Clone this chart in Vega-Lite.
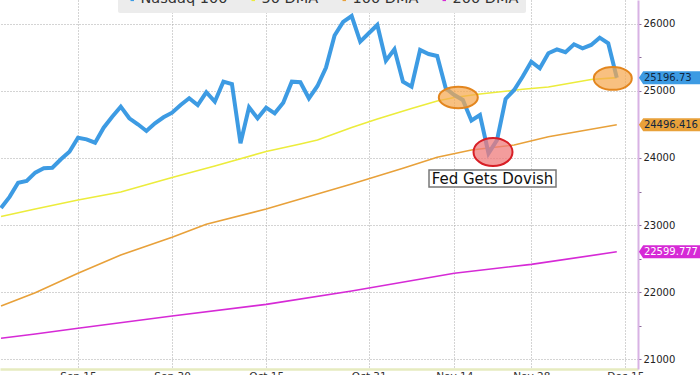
{
  "$schema": "https://vega.github.io/schema/vega-lite/v6.json",
  "width": 638,
  "height": 369,
  "autosize": {"type": "none"},
  "padding": {"left": 0, "top": 0, "right": 62, "bottom": 6},
  "background": "white",
  "config": {"view": {"stroke": null}, "font": "DejaVu Sans"},
  "datasets": {
    "prices": [
      {"date": "2025-09-02", "series": "50 DMA", "value": 23127},
      {"date": "2025-09-08", "series": "50 DMA", "value": 23239},
      {"date": "2025-09-15", "series": "50 DMA", "value": 23373},
      {"date": "2025-09-22", "series": "50 DMA", "value": 23493},
      {"date": "2025-09-30", "series": "50 DMA", "value": 23710},
      {"date": "2025-10-07", "series": "50 DMA", "value": 23881},
      {"date": "2025-10-15", "series": "50 DMA", "value": 24097},
      {"date": "2025-10-21", "series": "50 DMA", "value": 24209},
      {"date": "2025-10-23", "series": "50 DMA", "value": 24269},
      {"date": "2025-10-29", "series": "50 DMA", "value": 24455},
      {"date": "2025-11-03", "series": "50 DMA", "value": 24582},
      {"date": "2025-11-07", "series": "50 DMA", "value": 24739},
      {"date": "2025-11-12", "series": "50 DMA", "value": 24851},
      {"date": "2025-11-14", "series": "50 DMA", "value": 24903},
      {"date": "2025-11-19", "series": "50 DMA", "value": 24955},
      {"date": "2025-11-26", "series": "50 DMA", "value": 25025},
      {"date": "2025-12-02", "series": "50 DMA", "value": 25060},
      {"date": "2025-12-09", "series": "50 DMA", "value": 25172},
      {"date": "2025-12-12", "series": "50 DMA", "value": 25200},
      {"date": "2025-09-02", "series": "100 DMA", "value": 21791},
      {"date": "2025-09-08", "series": "100 DMA", "value": 21990},
      {"date": "2025-09-15", "series": "100 DMA", "value": 22279},
      {"date": "2025-09-22", "series": "100 DMA", "value": 22552},
      {"date": "2025-09-30", "series": "100 DMA", "value": 22816},
      {"date": "2025-10-06", "series": "100 DMA", "value": 23010},
      {"date": "2025-10-15", "series": "100 DMA", "value": 23239},
      {"date": "2025-10-29", "series": "100 DMA", "value": 23612},
      {"date": "2025-11-06", "series": "100 DMA", "value": 23846},
      {"date": "2025-11-12", "series": "100 DMA", "value": 24010},
      {"date": "2025-11-18", "series": "100 DMA", "value": 24119},
      {"date": "2025-11-25", "series": "100 DMA", "value": 24194},
      {"date": "2025-12-02", "series": "100 DMA", "value": 24318},
      {"date": "2025-12-12", "series": "100 DMA", "value": 24496.416},
      {"date": "2025-09-02", "series": "200 DMA", "value": 21309},
      {"date": "2025-09-08", "series": "200 DMA", "value": 21373},
      {"date": "2025-09-15", "series": "200 DMA", "value": 21458},
      {"date": "2025-09-30", "series": "200 DMA", "value": 21642},
      {"date": "2025-10-15", "series": "200 DMA", "value": 21816},
      {"date": "2025-10-29", "series": "200 DMA", "value": 22015},
      {"date": "2025-11-14", "series": "200 DMA", "value": 22279},
      {"date": "2025-11-28", "series": "200 DMA", "value": 22413},
      {"date": "2025-12-12", "series": "200 DMA", "value": 22599.777},
      {"date": "2025-09-02", "series": "Nasdaq 100", "value": 23254},
      {"date": "2025-09-03", "series": "Nasdaq 100", "value": 23420},
      {"date": "2025-09-04", "series": "Nasdaq 100", "value": 23631},
      {"date": "2025-09-05", "series": "Nasdaq 100", "value": 23657},
      {"date": "2025-09-08", "series": "Nasdaq 100", "value": 23781},
      {"date": "2025-09-09", "series": "Nasdaq 100", "value": 23846},
      {"date": "2025-09-10", "series": "Nasdaq 100", "value": 23855},
      {"date": "2025-09-11", "series": "Nasdaq 100", "value": 23981},
      {"date": "2025-09-12", "series": "Nasdaq 100", "value": 24094},
      {"date": "2025-09-15", "series": "Nasdaq 100", "value": 24303},
      {"date": "2025-09-16", "series": "Nasdaq 100", "value": 24279},
      {"date": "2025-09-17", "series": "Nasdaq 100", "value": 24228},
      {"date": "2025-09-18", "series": "Nasdaq 100", "value": 24452},
      {"date": "2025-09-19", "series": "Nasdaq 100", "value": 24616},
      {"date": "2025-09-22", "series": "Nasdaq 100", "value": 24766},
      {"date": "2025-09-23", "series": "Nasdaq 100", "value": 24593},
      {"date": "2025-09-24", "series": "Nasdaq 100", "value": 24503},
      {"date": "2025-09-25", "series": "Nasdaq 100", "value": 24403},
      {"date": "2025-09-26", "series": "Nasdaq 100", "value": 24518},
      {"date": "2025-09-29", "series": "Nasdaq 100", "value": 24607},
      {"date": "2025-09-30", "series": "Nasdaq 100", "value": 24676},
      {"date": "2025-10-01", "series": "Nasdaq 100", "value": 24791},
      {"date": "2025-10-02", "series": "Nasdaq 100", "value": 24891},
      {"date": "2025-10-03", "series": "Nasdaq 100", "value": 24791},
      {"date": "2025-10-06", "series": "Nasdaq 100", "value": 24981},
      {"date": "2025-10-07", "series": "Nasdaq 100", "value": 24840},
      {"date": "2025-10-08", "series": "Nasdaq 100", "value": 25139},
      {"date": "2025-10-09", "series": "Nasdaq 100", "value": 25104},
      {"date": "2025-10-10", "series": "Nasdaq 100", "value": 24219},
      {"date": "2025-10-13", "series": "Nasdaq 100", "value": 24757},
      {"date": "2025-10-14", "series": "Nasdaq 100", "value": 24593},
      {"date": "2025-10-15", "series": "Nasdaq 100", "value": 24751},
      {"date": "2025-10-16", "series": "Nasdaq 100", "value": 24667},
      {"date": "2025-10-17", "series": "Nasdaq 100", "value": 24825},
      {"date": "2025-10-20", "series": "Nasdaq 100", "value": 25139},
      {"date": "2025-10-21", "series": "Nasdaq 100", "value": 25130},
      {"date": "2025-10-22", "series": "Nasdaq 100", "value": 24891},
      {"date": "2025-10-23", "series": "Nasdaq 100", "value": 25075},
      {"date": "2025-10-24", "series": "Nasdaq 100", "value": 25351},
      {"date": "2025-10-27", "series": "Nasdaq 100", "value": 25828},
      {"date": "2025-10-28", "series": "Nasdaq 100", "value": 26030},
      {"date": "2025-10-29", "series": "Nasdaq 100", "value": 26119},
      {"date": "2025-10-30", "series": "Nasdaq 100", "value": 25736},
      {"date": "2025-10-31", "series": "Nasdaq 100", "value": 25861},
      {"date": "2025-11-03", "series": "Nasdaq 100", "value": 25985},
      {"date": "2025-11-04", "series": "Nasdaq 100", "value": 25452},
      {"date": "2025-11-05", "series": "Nasdaq 100", "value": 25622},
      {"date": "2025-11-06", "series": "Nasdaq 100", "value": 25139},
      {"date": "2025-11-07", "series": "Nasdaq 100", "value": 25064},
      {"date": "2025-11-10", "series": "Nasdaq 100", "value": 25612},
      {"date": "2025-11-11", "series": "Nasdaq 100", "value": 25552},
      {"date": "2025-11-12", "series": "Nasdaq 100", "value": 25522},
      {"date": "2025-11-13", "series": "Nasdaq 100", "value": 25040},
      {"date": "2025-11-14", "series": "Nasdaq 100", "value": 24940},
      {"date": "2025-11-17", "series": "Nasdaq 100", "value": 24866},
      {"date": "2025-11-18", "series": "Nasdaq 100", "value": 24560},
      {"date": "2025-11-19", "series": "Nasdaq 100", "value": 24642},
      {"date": "2025-11-20", "series": "Nasdaq 100", "value": 24070},
      {"date": "2025-11-21", "series": "Nasdaq 100", "value": 24269},
      {"date": "2025-11-24", "series": "Nasdaq 100", "value": 24881},
      {"date": "2025-11-25", "series": "Nasdaq 100", "value": 25015},
      {"date": "2025-11-26", "series": "Nasdaq 100", "value": 25216},
      {"date": "2025-11-28", "series": "Nasdaq 100", "value": 25437},
      {"date": "2025-12-01", "series": "Nasdaq 100", "value": 25339},
      {"date": "2025-12-02", "series": "Nasdaq 100", "value": 25563},
      {"date": "2025-12-03", "series": "Nasdaq 100", "value": 25622},
      {"date": "2025-12-04", "series": "Nasdaq 100", "value": 25578},
      {"date": "2025-12-05", "series": "Nasdaq 100", "value": 25697},
      {"date": "2025-12-08", "series": "Nasdaq 100", "value": 25637},
      {"date": "2025-12-09", "series": "Nasdaq 100", "value": 25687},
      {"date": "2025-12-10", "series": "Nasdaq 100", "value": 25796},
      {"date": "2025-12-11", "series": "Nasdaq 100", "value": 25712},
      {"date": "2025-12-12", "series": "Nasdaq 100", "value": 25196.73}
    ],
    "last": [
      {"date": "2025-12-16", "series": "Nasdaq 100", "value": 25196.73, "label": "25196.73"},
      {"date": "2025-12-16", "series": "100 DMA", "value": 24496.416, "label": "24496.416"},
      {"date": "2025-12-16", "series": "200 DMA", "value": 22599.777, "label": "22599.777"}
    ]
  },
  "encoding": {
    "x": {
      "field": "date",
      "type": "ordinal",
      "scale": {
        "type": "point",
        "padding": 0.3,
        "align": 0.2,
        "domain": [
          "2025-09-02","2025-09-03","2025-09-04","2025-09-05","2025-09-08","2025-09-09","2025-09-10","2025-09-11","2025-09-12","2025-09-15","2025-09-16","2025-09-17","2025-09-18","2025-09-19","2025-09-22","2025-09-23","2025-09-24","2025-09-25","2025-09-26","2025-09-29","2025-09-30",
          "2025-10-01","2025-10-02","2025-10-03","2025-10-06","2025-10-07","2025-10-08","2025-10-09","2025-10-10","2025-10-13","2025-10-14","2025-10-15","2025-10-16","2025-10-17","2025-10-20","2025-10-21","2025-10-22","2025-10-23","2025-10-24","2025-10-27","2025-10-28","2025-10-29","2025-10-30","2025-10-31",
          "2025-11-03","2025-11-04","2025-11-05","2025-11-06","2025-11-07","2025-11-10","2025-11-11","2025-11-12","2025-11-13","2025-11-14","2025-11-17","2025-11-18","2025-11-19","2025-11-20","2025-11-21","2025-11-24","2025-11-25","2025-11-26","2025-11-28",
          "2025-12-01","2025-12-02","2025-12-03","2025-12-04","2025-12-05","2025-12-08","2025-12-09","2025-12-10","2025-12-11","2025-12-12","2025-12-15","2025-12-16"
        ]
      },
      "axis": {
        "title": null,
        "orient": "bottom",
        "values": ["2025-09-15","2025-09-30","2025-10-15","2025-10-31","2025-11-14","2025-11-28","2025-12-15"],
        "labelExpr": "utcFormat(toDate(datum.value), '%b %d')",
        "labelAngle": 0,
        "labelFont": "DejaVu Sans",
        "labelFontSize": 10.5,
        "labelColor": "#333333",
        "labelPadding": 2,
        "ticks": false,
        "domainColor": "#e6ebbf",
        "domainWidth": 2.5,
        "grid": true,
        "gridColor": "#a9a9a9",
        "gridDash": [1, 2],
        "gridWidth": 1
      }
    },
    "y": {
      "field": "value",
      "type": "quantitative",
      "scale": {"domain": [20851, 26358], "nice": false, "zero": false},
      "axis": {
        "title": null,
        "orient": "right",
        "values": [21000, 21500, 22000, 22500, 23000, 23500, 24000, 24500, 25000, 25500, 26000],
        "labelExpr": "datum.value % 1000 === 0 ? format(datum.value, 'd') : ''",
        "labelFont": "DejaVu Sans",
        "labelFontSize": 10,
        "labelColor": "#222222",
        "labelPadding": 2,
        "tickSize": 3,
        "tickColor": "#8a6a9a",
        "domainColor": "#d8b2e4",
        "domainWidth": 2,
        "grid": true,
        "gridColor": "#a9a9a9",
        "gridDash": [1, 2],
        "gridWidth": 1,
        "gridOpacity": {"condition": {"test": "datum.value % 1000 === 0", "value": 1}, "value": 0}
      }
    }
  },
  "layer": [
    {
      "data": {"name": "prices"},
      "transform": [{"filter": "datum.series !== 'Nasdaq 100'"}],
      "mark": {"type": "line", "strokeWidth": 1.6},
      "encoding": {
        "color": {
          "field": "series",
          "type": "nominal",
          "scale": {
            "domain": ["Nasdaq 100", "50 DMA", "100 DMA", "200 DMA"],
            "range": ["#3d9be3", "#ecec3c", "#e8a13a", "#d62ad6"]
          },
          "legend": {
            "title": null,
            "orient": "none",
            "legendX": 118,
            "legendY": -15,
            "direction": "horizontal",
            "columns": 4,
            "columnPadding": 18,
            "fillColor": "#ececec",
            "padding": 7,
            "cornerRadius": 2,
            "labelFont": "DejaVu Sans",
            "labelFontSize": 14.5,
            "labelColor": "#333333",
            "labelOffset": 1,
            "symbolType": "square",
            "symbolSize": 12,
            "symbolStrokeWidth": 0
          }
        }
      }
    },
    {
      "data": {"name": "prices"},
      "transform": [{"filter": "datum.series === 'Nasdaq 100'"}],
      "mark": {"type": "line", "strokeWidth": 4},
      "encoding": {
        "color": {"field": "series", "type": "nominal"}
      }
    },
    {
      "data": {"values": [{"date": "2025-11-14", "value": 24903}]},
      "mark": {"type": "point", "shape": "M-1,0 A1,0.55 0 1,0 1,0 A1,0.55 0 1,0 -1,0 Z", "size": 1521, "filled": true, "fill": "#f5a84f", "fillOpacity": 0.72, "stroke": "#e3861e", "strokeWidth": 2, "opacity": 1, "xOffset": 4}
    },
    {
      "data": {"values": [{"date": "2025-12-12", "value": 25187}]},
      "mark": {"type": "point", "shape": "M-1,0 A1,0.6 0 1,0 1,0 A1,0.6 0 1,0 -1,0 Z", "size": 1444, "filled": true, "fill": "#f5a84f", "fillOpacity": 0.72, "stroke": "#e3861e", "strokeWidth": 2, "opacity": 1, "xOffset": -4}
    },
    {
      "data": {"values": [{"date": "2025-11-20", "value": 24090}]},
      "mark": {"type": "point", "shape": "M-1,0 A1,0.72 0 1,0 1,0 A1,0.72 0 1,0 -1,0 Z", "size": 1521, "filled": true, "fill": "#ef7b7b", "fillOpacity": 0.75, "stroke": "#d81f26", "strokeWidth": 2, "opacity": 1, "xOffset": 4.5}
    },
    {
      "data": {"values": [{"date": "2025-11-20", "value": 23694, "label": "Fed Gets Dovish"}]},
      "mark": {"type": "point", "shape": "M-1,-0.134 L1,-0.134 L1,0.134 L-1,0.134 Z", "size": 16129, "filled": true, "fill": "white", "stroke": "#777777", "strokeWidth": 1.5, "opacity": 1, "xOffset": 4}
    },
    {
      "data": {"values": [{"date": "2025-11-20", "value": 23694, "label": "Fed Gets Dovish"}]},
      "mark": {"type": "text", "font": "DejaVu Sans", "fontSize": 15, "color": "#111111", "align": "center", "baseline": "middle", "xOffset": 4},
      "encoding": {"text": {"field": "label"}}
    },
    {
      "data": {"name": "last"},
      "mark": {"type": "point", "shape": "M-1,0 L-0.87,-0.197 L1,-0.197 L1,0.197 L-0.87,0.197 Z", "size": 4356, "filled": true, "opacity": 1, "xOffset": 38},
      "encoding": {
        "color": {"field": "series", "type": "nominal"}
      }
    },
    {
      "data": {"name": "last"},
      "mark": {"type": "text", "font": "DejaVu Sans", "fontSize": 10, "align": "left", "baseline": "middle", "xOffset": 10},
      "encoding": {
        "text": {"field": "label"},
        "color": {"condition": {"test": "datum.series === '200 DMA'", "value": "white"}, "value": "#10263f"}
      }
    }
  ]
}
